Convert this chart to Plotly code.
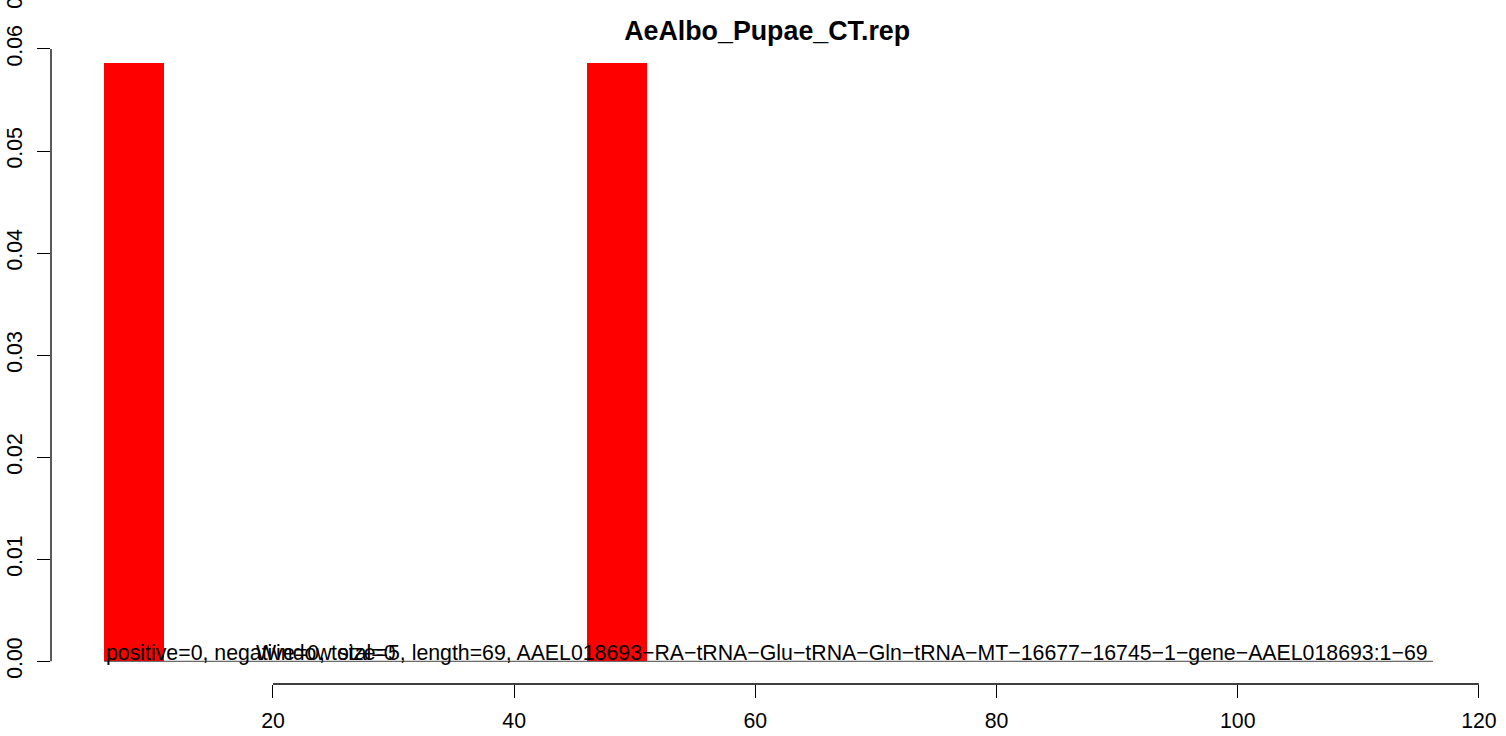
import plotly.graph_objects as go

# data
bin_start = [6, 46]
bin_value = [0.0586, 0.0586]
window = 5
baseline_x = [6, 116.2]
x_ticks = [20, 40, 60, 80, 100, 120]
y_ticks = [0.0, 0.01, 0.02, 0.03, 0.04, 0.05, 0.06]
y_ticktext = ["0.00", "0.01", "0.02", "0.03", "0.04", "0.05", "0.06"]
title = "AeAlbo_Pupae_CT.rep"
count_label = "positive=0, negative=0, total=0"
info_label = ("Window size=5, length=69, AAEL018693\u2212RA\u2212tRNA\u2212Glu\u2212tRNA\u2212Gln"
              "\u2212tRNA\u2212MT\u221216677\u221216745\u22121\u2212gene\u2212AAEL018693:1\u221269")

FONT = "Liberation Sans, Arial, sans-serif"
FS = 21.3

fig = go.Figure()
fig.add_trace(go.Bar(
    x=[s + window / 2 for s in bin_start], y=bin_value, width=[window] * len(bin_start),
    marker=dict(color="#ff0000", line=dict(width=0)), hoverinfo="skip"))
fig.add_trace(go.Scatter(
    x=baseline_x, y=[0, 0], mode="lines", line=dict(color="#444444", width=1),
    hoverinfo="skip"))

# text at the baseline
fig.add_annotation(x=bin_start[0], y=0, text=count_label, showarrow=False,
                   xanchor="left", yanchor="bottom", yshift=-6,
                   font=dict(family=FONT, size=FS, color="black"))
fig.add_annotation(x=18.45, y=0, text=info_label, showarrow=False,
                   xanchor="left", yanchor="bottom", yshift=-6,
                   font=dict(family=FONT, size=FS, color="black"))

# clipped label at top left
fig.add_annotation(xref="paper", yref="paper", x=-0.025, y=1.058, text="0",
                   showarrow=False, textangle=-90, xanchor="center", yanchor="middle",
                   font=dict(family=FONT, size=FS, color="black"))

# detached R-style axis lines
fig.add_shape(type="line", xref="x", yref="paper", x0=x_ticks[0], x1=x_ticks[-1],
              y0=0, y1=0, line=dict(color="black", width=1.3))
fig.add_shape(type="line", xref="paper", yref="y", x0=0, x1=0,
              y0=y_ticks[0], y1=y_ticks[-1], line=dict(color="black", width=1.3))

fig.update_layout(
    width=1506, height=736,
    margin=dict(l=51, r=16, t=40, b=52),
    paper_bgcolor="white", plot_bgcolor="white",
    showlegend=False,
    title=dict(text="<b>" + title + "</b>", x=0.5094, xanchor="center", y=0.958,
               yanchor="middle", font=dict(family=FONT, size=26.8, color="black")),
    font=dict(family=FONT, size=FS, color="black"),
    bargap=0,
)
fig.update_xaxes(range=[1.592, 120.92], tickvals=x_ticks, ticks="outside", ticklen=13,
                 tickwidth=1.3, tickcolor="black", showline=False, showgrid=False,
                 zeroline=False, ticklabelstandoff=4, automargin=False)
fig.update_yaxes(range=[-0.002225, 0.06088], tickvals=y_ticks, ticktext=y_ticktext,
                 ticks="outside", ticklen=13, tickwidth=1.3, tickcolor="black",
                 showline=False, showgrid=False, zeroline=False, tickangle=-90,
                 ticklabelstandoff=6, automargin=False)

# drop the browser's default body margin so the figure sits at the window corner
fig.write_html("out.html", config={"displayModeBar": False},
               post_script="document.body.style.margin='0';")
